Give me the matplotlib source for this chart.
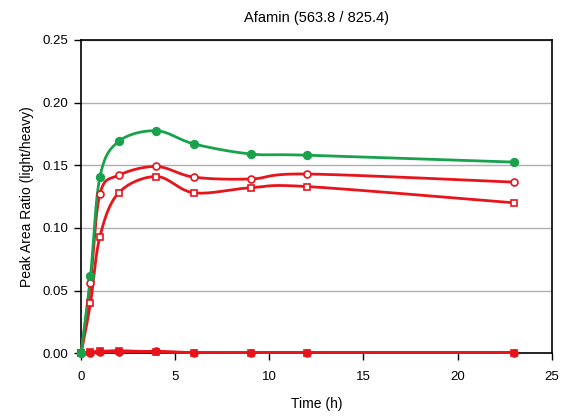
import numpy as np
import matplotlib
matplotlib.use('Agg')
import matplotlib.pyplot as plt

plt.rcParams['font.family'] = ['Liberation Sans', 'DejaVu Sans']

time_h = [0, 0.5, 1, 2, 4, 6, 9, 12, 23]
green_filled = [0, 0.0615, 0.1405, 0.1690, 0.1775, 0.1670, 0.1590, 0.1580, 0.1525]
red_circle = [0, 0.0560, 0.1270, 0.1420, 0.1490, 0.1405, 0.1390, 0.1430, 0.1365]
red_square = [0, 0.0400, 0.0930, 0.1280, 0.1410, 0.1280, 0.1320, 0.1330, 0.1200]
red_filled_sq = [0, 0.0010, 0.0015, 0.0020, 0.0010, 0.0005, 0.0005, 0.0005, 0.0005]
red_filled_circ = [0, 0.0005, 0.0010, 0.0010, 0.0015, 0.0005, 0.0005, 0.0005, 0.0005]

GREEN = '#17a24b'
RED = '#e8141c'


def smooth(x, y, n=30):
    # Excel-style smoothed line (Catmull-Rom bezier through the points)
    x = np.asarray(x, float)
    y = np.asarray(y, float)
    px, py = [], []
    for i in range(len(x) - 1):
        x0, y0 = (x[i - 1], y[i - 1]) if i > 0 else (x[i], y[i])
        x3, y3 = (x[i + 2], y[i + 2]) if i + 2 < len(x) else (x[i + 1], y[i + 1])
        c1x = x[i] + (x[i + 1] - x0) / 6
        c1y = y[i] + (y[i + 1] - y0) / 6
        c2x = x[i + 1] - (x3 - x[i]) / 6
        c2y = y[i + 1] - (y3 - y[i]) / 6
        t = np.linspace(0, 1, n)
        px.extend((1 - t) ** 3 * x[i] + 3 * (1 - t) ** 2 * t * c1x + 3 * (1 - t) * t ** 2 * c2x + t ** 3 * x[i + 1])
        py.extend((1 - t) ** 3 * y[i] + 3 * (1 - t) ** 2 * t * c1y + 3 * (1 - t) * t ** 2 * c2y + t ** 3 * y[i + 1])
    return px, py


fig = plt.figure(figsize=(5.63, 4.16), dpi=100)
ax = fig.add_axes([0.144, 0.151, 0.836, 0.753])

series = [
    (red_filled_circ, RED, 'o', RED, 5),
    (red_filled_sq, RED, 's', RED, 5),
    (red_square, RED, 's', 'white', 5),
    (red_circle, RED, 'o', 'white', 5),
    (green_filled, GREEN, 'o', GREEN, 5.5),
]
for vals, col, mk, fc, ms in series:
    sx, sy = smooth(time_h, vals)
    ax.plot(sx, sy, color=col, lw=2, zorder=3, clip_on=False)
    ax.plot(time_h, vals, ls='none', marker=mk, ms=ms, mfc=fc, mec=col, mew=1.2, zorder=4, clip_on=False)

ax.set_xlim(0, 25)
ax.set_ylim(0, 0.25)
ax.set_xticks([0, 5, 10, 15, 20, 25])
ax.set_yticks(np.arange(0, 0.26, 0.05))
ax.set_yticklabels(['%.2f' % v for v in np.arange(0, 0.26, 0.05)])
ax.yaxis.grid(True, color='#b0b0b0', lw=1)
ax.set_axisbelow(True)
ax.tick_params(direction='out', length=5, width=1, labelsize=9.5, colors='black', pad=4)
ax.tick_params(axis='x', pad=8)
for s in ax.spines.values():
    s.set_linewidth(1.2)
    s.set_color('black')

ax.set_title('Afamin (563.8 / 825.4)', fontsize=10.5, pad=13)
ax.set_xlabel('Time (h)', fontsize=10, labelpad=10)
ax.set_ylabel('Peak Area Ratio (light/heavy)', fontsize=10, labelpad=6)

fig.savefig('out.png', dpi=100)
